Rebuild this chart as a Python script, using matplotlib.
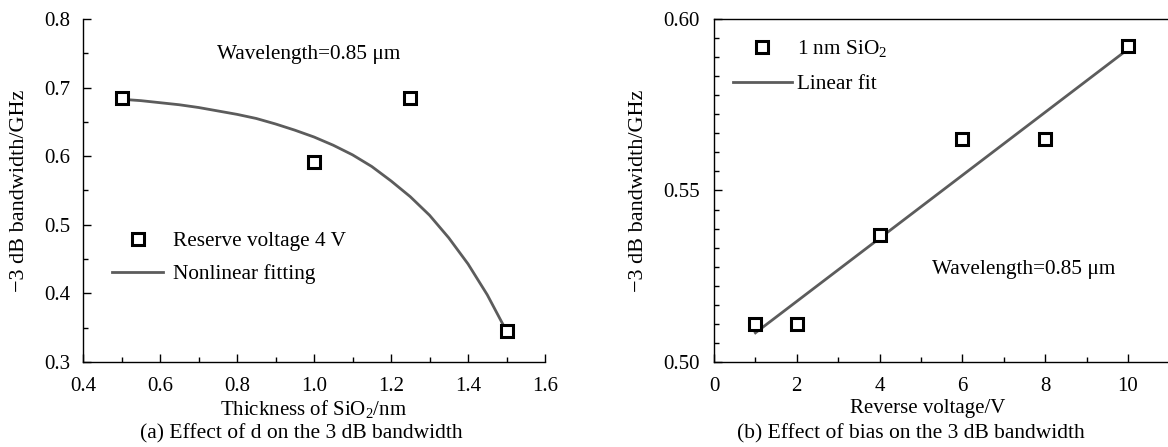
import numpy as np
import matplotlib
matplotlib.use("Agg")
import matplotlib.pyplot as plt
from matplotlib.ticker import MultipleLocator, AutoMinorLocator

plt.rcParams['font.family'] = ['Liberation Serif', 'DejaVu Serif']
plt.rcParams['mathtext.fontset'] = 'custom'
plt.rcParams['mathtext.rm'] = 'Liberation Serif'
plt.rcParams['mathtext.it'] = 'Liberation Serif:italic'
plt.rcParams['font.size'] = 15

# (a) thickness vs bandwidth
thick = [0.5, 1.0, 1.25, 1.5]
bw_a = [0.685, 0.592, 0.685, 0.345]
fit_a_x = [0.5, 0.55, 0.6, 0.65, 0.7, 0.75, 0.8, 0.85, 0.9, 0.95, 1.0, 1.05, 1.1,
           1.15, 1.2, 1.25, 1.3, 1.35, 1.4, 1.45, 1.5]
fit_a_y = [0.683, 0.681, 0.678, 0.675, 0.671, 0.666, 0.661, 0.655, 0.647, 0.638, 0.628,
           0.616, 0.602, 0.585, 0.564, 0.541, 0.514, 0.481, 0.443, 0.398, 0.345]

# (b) bias vs bandwidth
volt = [1, 2, 4, 6, 8, 10]
bw_b = [0.511, 0.511, 0.537, 0.565, 0.565, 0.592]
fit_b_x = [1, 10]
fit_b_y = [0.5085, 0.5912]

fit_color = '#5c5c5c'
W, H = 1168, 447
fig = plt.figure(figsize=(W / 100, H / 100), dpi=100)

bottom_px, top_px = 362, 19
ax1 = fig.add_axes([83 / W, 1 - bottom_px / H, 462 / W, (bottom_px - top_px) / H])
ax2 = fig.add_axes([714 / W, 1 - bottom_px / H, 455.4 / W, (bottom_px - top_px) / H])

mk = dict(marker='s', linestyle='none', markersize=9, markerfacecolor='white',
          markeredgecolor='black', markeredgewidth=2.2)

ax1.plot(fit_a_x, fit_a_y, color=fit_color, lw=2, label='Nonlinear fitting', zorder=2)
ax1.plot(thick, bw_a, label='Reserve voltage 4 V', zorder=3, **mk)
ax1.set_xlim(0.4, 1.6)
ax1.set_ylim(0.3, 0.8)
ax1.xaxis.set_major_locator(MultipleLocator(0.2))
ax1.xaxis.set_minor_locator(MultipleLocator(0.1))
ax1.yaxis.set_major_locator(MultipleLocator(0.1))
ax1.yaxis.set_minor_locator(MultipleLocator(0.05))
ax1.xaxis.set_major_formatter(plt.FuncFormatter(lambda v, p: f'{v:.1f}'))
ax1.yaxis.set_major_formatter(plt.FuncFormatter(lambda v, p: f'{v:.1f}'))
ax1.spines['top'].set_visible(False)
ax1.spines['right'].set_visible(False)
ax1.set_xlabel('Thickness of SiO$_2$/nm', fontsize=15, va='center', ha='center')
ax1.set_ylabel('\u22123 dB bandwidth/GHz', fontsize=16, va='center', ha='center')
ax1.xaxis.set_label_coords(0.5, -(409 - bottom_px) / (bottom_px - top_px))
ax1.yaxis.set_label_coords(-0.138, 0.5)
ax1.text(0.488, 0.897, 'Wavelength=0.85 \u03bcm', transform=ax1.transAxes,
         ha='center', va='center', fontsize=15.3)
h, l = ax1.get_legend_handles_labels()
ax1.legend([h[1], h[0]], [l[1], l[0]], loc='upper left', bbox_to_anchor=(0.045, 0.406),
           frameon=False, fontsize=15.3, handlelength=2.4, handletextpad=0.45,
           labelspacing=0.62, borderaxespad=0)

ax2.plot(fit_b_x, fit_b_y, color=fit_color, lw=2, label='Linear fit', zorder=2)
ax2.plot(volt, bw_b, label='1 nm SiO$_2$', zorder=3, **mk)
ax2.set_xlim(0, 11)
ax2.set_ylim(0.50, 0.60)
ax2.xaxis.set_major_locator(MultipleLocator(2))
ax2.xaxis.set_minor_locator(MultipleLocator(1))
ax2.yaxis.set_major_locator(MultipleLocator(0.05))
ax2.yaxis.set_minor_locator(AutoMinorLocator(9))
ax2.yaxis.set_major_formatter(plt.FuncFormatter(lambda v, p: f'{v:.2f}'))
ax2.set_xlabel('Reverse voltage/V', fontsize=15, va='center', ha='center')
ax2.set_ylabel('\u22123 dB bandwidth/GHz', fontsize=16, va='center', ha='center')
ax2.xaxis.set_label_coords(0.47, -(409 - bottom_px) / (bottom_px - top_px))
ax2.yaxis.set_label_coords(-0.165, 0.5)
ax2.text(0.68, 0.27, 'Wavelength=0.85 \u03bcm', transform=ax2.transAxes,
         ha='center', va='center', fontsize=15.3)
h, l = ax2.get_legend_handles_labels()
ax2.legend([h[1], h[0]], [l[1], l[0]], loc='upper left', bbox_to_anchor=(0.022, 0.968),
           frameon=False, fontsize=15.3, handlelength=2.8, handletextpad=0.25,
           labelspacing=0.7, borderaxespad=0)

for ax in (ax1, ax2):
    ax.tick_params(which='both', direction='in', width=1, labelsize=15)
    ax.tick_params(which='major', length=6)
    ax.tick_params(axis='x', which='major', pad=11)
    ax.tick_params(which='minor', length=3.5)
    for s in ax.spines.values():
        s.set_linewidth(1)
ax1.tick_params(axis='y', which='major', pad=9)
ax2.tick_params(axis='y', which='major', pad=10)

fig.text(301 / W, 1 - 434 / H, '(a) Effect of d on the 3 dB bandwidth',
         ha='center', va='center', fontsize=15.5)
fig.text(911 / W, 1 - 434 / H, '(b) Effect of bias on the 3 dB bandwidth',
         ha='center', va='center', fontsize=15.5)

fig.savefig('out.png', dpi=100)
